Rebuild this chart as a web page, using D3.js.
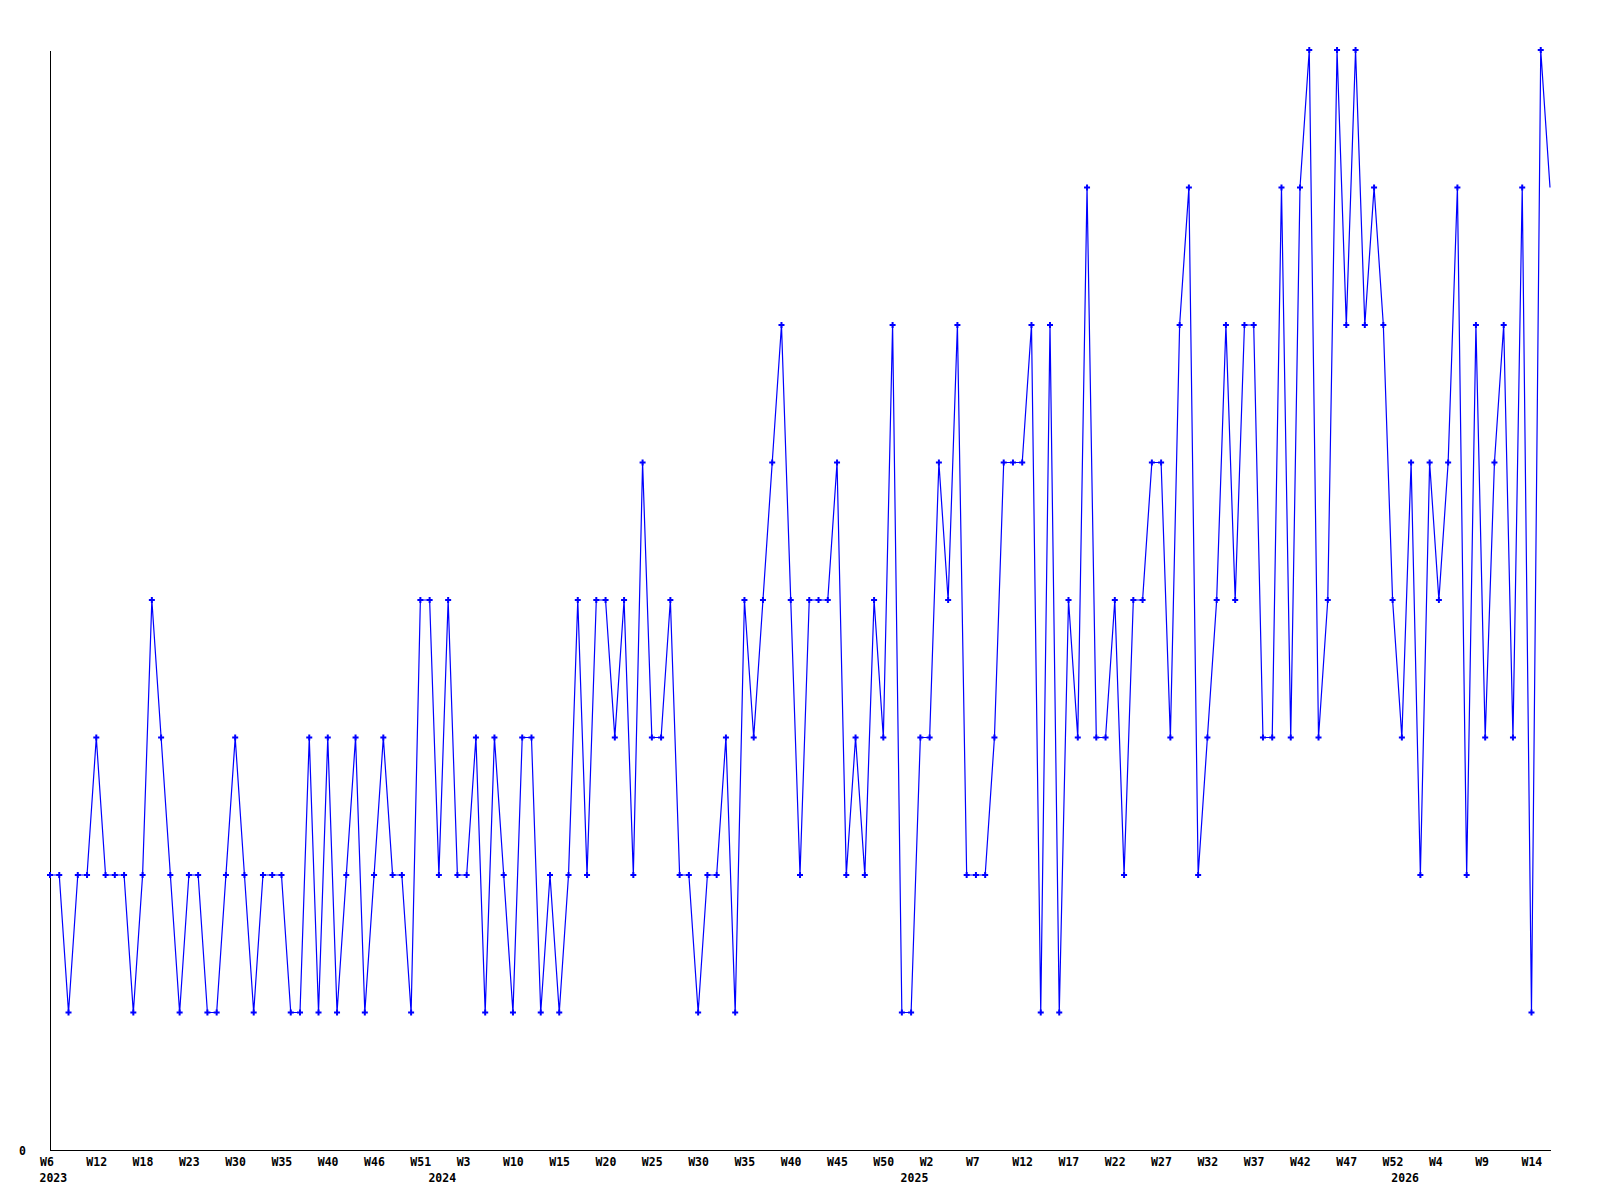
<!DOCTYPE html>
<html>
<head>
<meta charset="utf-8">
<script src="https://cdn.jsdelivr.net/npm/d3@7"></script>
<style>
  html, body { margin: 0; padding: 0; background: #fff; }
  svg { display: block; }
  .lbl { font-family: "DejaVu Sans Mono", "Liberation Mono", monospace; font-weight: bold; font-size: 11.5px; fill: #000; }
</style>
</head>
<body>
<svg id="chart" width="1600" height="1200"></svg>
<script>
// Values per sample (163 samples, first sample = 2023 W6)
const values = [
  2,2,1,2,2,3,2,2,2,1,
  2,4,3,2,1,2,2,1,1,2,
  3,2,1,2,2,2,1,1,3,1,
  3,1,2,3,1,2,3,2,2,1,
  4,4,2,4,2,2,3,1,3,2,
  1,3,3,1,2,1,2,4,2,4,
  4,3,4,2,5,3,3,4,2,2,
  1,2,2,3,1,4,3,4,5,6,
  4,2,4,4,4,5,2,3,2,4,
  3,6,1,1,3,3,5,4,6,2,
  2,2,3,5,5,5,6,1,6,1,
  4,3,7,3,3,4,2,4,4,5,
  5,3,6,7,2,3,4,6,4,6,
  6,3,3,7,3,7,8,3,4,8,
  6,8,6,7,6,4,3,5,2,5,
  4,5,7,2,6,3,5,6,3,7,
  1,8,7
];
// Tick labels, one every 5 samples
const weekLabels = ["W6","W12","W18","W23","W30","W35","W40","W46","W51","W3","W10",
  "W15","W20","W25","W30","W35","W40","W45","W50","W2","W7","W12","W17","W22","W27",
  "W32","W37","W42","W47","W52","W4","W9","W14"];
const tickEvery = 5;
// Year labels and the sample index where each year begins
const yearNames = ["2023","2024","2025","2026"];
const yearStartIndex = [0, 42, 93, 146];
const yTicks = [0];

const svg = d3.select("#chart");
const x = d3.scaleLinear().domain([0, values.length - 1]).range([50, 1550]);
const y = d3.scaleLinear().domain([0, 8]).range([1150, 50]);

// X axis
const xAxis = d3.axisBottom(x)
  .tickValues(weekLabels.map((d, i) => i * tickEvery))
  .tickFormat((d, i) => weekLabels[i])
  .tickSize(0).tickSizeOuter(0);
const gx = svg.append("g").attr("transform", `translate(0,${y(0)})`).call(xAxis);
gx.select(".domain").attr("stroke", "#000").attr("shape-rendering", "crispEdges");
gx.selectAll(".tick text")
  .attr("class", "lbl")
  .attr("text-anchor", "start")
  .attr("x", -10.5).attr("y", 16).attr("dy", 0);
gx.attr("font-family", null).attr("font-size", null);

// Year labels
svg.append("g").selectAll("text").data(yearNames).join("text")
  .attr("class", "lbl")
  .attr("x", (d, i) => x(yearStartIndex[i]) - 10.5)
  .attr("y", y(0) + 32)
  .text(d => d);

// Y axis
const yAxis = d3.axisLeft(y).tickValues(yTicks).tickSize(0).tickSizeOuter(0).tickPadding(24);
const gy = svg.append("g").attr("transform", `translate(${x(0)},0)`).call(yAxis);
gy.attr("font-family", null).attr("font-size", null);
gy.select(".domain").attr("stroke", "#000").attr("shape-rendering", "crispEdges");
gy.selectAll(".tick text").attr("class", "lbl").attr("dy", "0.36em");

// Line
const line = d3.line().x((d, i) => x(i)).y(d => y(d));
svg.append("path")
  .datum(values)
  .attr("fill", "none")
  .attr("stroke", "#0000ff")
  .attr("stroke-width", 1.2)
  .attr("d", line);

// Markers (all but the last sample)
const cross = d3.symbol().type(d3.symbolCross).size(20);
svg.append("g").selectAll("path")
  .data(values.slice(0, values.length - 1))
  .join("path")
  .attr("transform", (d, i) => `translate(${x(i)},${y(d)})`)
  .attr("d", cross)
  .attr("fill", "#0000ff");
</script>
</body>
</html>
